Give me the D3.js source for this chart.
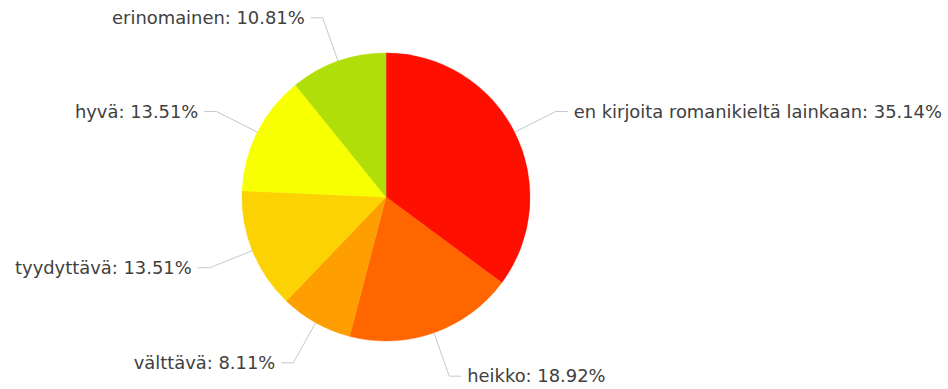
<!DOCTYPE html>
<html>
<head>
<meta charset="utf-8">
<script src="https://cdn.jsdelivr.net/npm/d3@7"></script>
<style>
  body { margin: 0; background: #fff; }
</style>
</head>
<body>
<div id="pie"></div>
<script>
// data
var categories = ["en kirjoita romanikieltä lainkaan", "heikko", "välttävä", "tyydyttävä", "hyvä", "erinomainen"];
var percents = [35.14, 18.92, 8.11, 13.51, 13.51, 10.81];
var colors = ["#FF0F00", "#FF6600", "#FF9E01", "#FCD202", "#F8FF01", "#B0DE09"];

var width = 948, height = 389;
var cx = 386, cy = 197, radius = 144;
var elbowR = radius + 46, tick = 12, gap = 6;

var data = categories.map(function(c, i) { return {name: c, value: percents[i], color: colors[i]}; });

var svg = d3.select("#pie")
  .append("svg")
    .attr("width", width)
    .attr("height", height)
  .append("g")
    .attr("transform", "translate(" + cx + "," + cy + ")");

var pie = d3.pie()
  .sort(null)
  .value(function(d) { return d.value; });

var arc = d3.arc()
  .innerRadius(0)
  .outerRadius(radius);

var arcs = pie(data);

// slices
svg.append("g")
  .selectAll("path")
  .data(arcs)
  .enter()
  .append("path")
    .attr("d", arc)
    .attr("fill", function(d) { return d.data.color; })
    .attr("stroke", function(d) { return d.data.color; })
    .attr("stroke-width", 0.5);

function mid(d) { return (d.startAngle + d.endAngle) / 2; }
function side(d) { return Math.sin(mid(d)) >= 0 ? 1 : -1; }

// leader lines
svg.append("g")
  .selectAll("polyline")
  .data(arcs)
  .enter()
  .append("polyline")
    .attr("fill", "none")
    .attr("stroke", "#c4c8cc")
    .attr("stroke-width", 1)
    .attr("points", function(d) {
      var a = mid(d);
      var x1 = radius * Math.sin(a), y1 = -radius * Math.cos(a);
      var x2 = elbowR * Math.sin(a), y2 = -elbowR * Math.cos(a);
      return [[x1, y1], [x2, y2], [x2 + side(d) * tick, y2]].join(" ");
    });

// labels
svg.append("g")
  .selectAll("text")
  .data(arcs)
  .enter()
  .append("text")
    .text(function(d) { return d.data.name + ": " + d.data.value.toFixed(2) + "%"; })
    .attr("x", function(d) { return elbowR * Math.sin(mid(d)) + side(d) * (tick + gap); })
    .attr("y", function(d) { return -elbowR * Math.cos(mid(d)); })
    .attr("dy", "0.35em")
    .attr("text-anchor", function(d) { return side(d) > 0 ? "start" : "end"; })
    .attr("font-family", "DejaVu Sans, Verdana, sans-serif")
    .attr("font-size", "17.9px")
    .attr("fill", "#404040");
</script>
</body>
</html>
